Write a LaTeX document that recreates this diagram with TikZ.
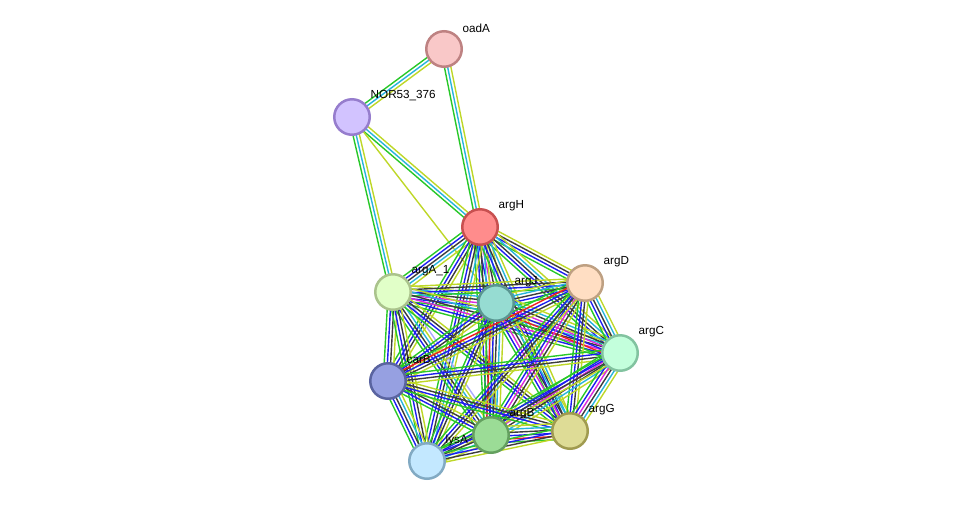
\documentclass[tikz,border=0pt]{standalone}
\usepackage{fontspec}
\setmainfont{Liberation Sans}
\usetikzlibrary{calc}
\pgfdeclarelayer{bg}
\pgfsetlayers{bg,main}
\definecolor{sn}{RGB}{40,200,40}
\definecolor{sf}{RGB}{240,30,30}
\definecolor{sc}{RGB}{30,30,240}
\definecolor{se}{RGB}{220,40,220}
\definecolor{sd}{RGB}{40,180,220}
\definecolor{sx}{RGB}{60,60,60}
\definecolor{st}{RGB}{190,215,40}
\definecolor{sh}{RGB}{170,170,255}
\tikzset{
  prot/.style={circle,minimum size=35.5pt,inner sep=0pt,line width=2.5pt},
  lbl/.style={anchor=west,inner sep=0.5pt,font=\fontsize{11.7}{12}\selectfont},
  chan/.style={line width=1.4pt}
}
\newcommand\stredge[3]{%
  \def\nlines{0}%
  \foreach \cc in {#3}{\pgfmathtruncatemacro\tmpn{\nlines+1}\global\let\nlines\tmpn}%
  \foreach \cc [count=\i] in {#3}{%
    \pgfmathsetmacro\eoff{(\i-(\nlines+1)/2)*3.2}%
    \draw[chan,\cc] ($(#1)!\eoff pt!90:(#2)$) -- ($(#2)!\eoff pt!-90:(#1)$);
  }}
\begin{document}
\begin{tikzpicture}[x=1pt,y=-1pt]
\useasboundingbox (0,0) rectangle (976,507);
% proteins
\node[prot,fill={rgb,255:red,249;green,200;blue,200},draw={rgb,255:red,190;green,130;blue,130}] (oadA) at (444,49) {};
\node[prot,fill={rgb,255:red,210;green,195;blue,255},draw={rgb,255:red,150;green,125;blue,205}] (NOR) at (352,117) {};
\node[prot,fill={rgb,255:red,255;green,140;blue,140},draw={rgb,255:red,200;green,80;blue,80}] (argH) at (480,227) {};
\node[prot,fill={rgb,255:red,225;green,255;blue,200},draw={rgb,255:red,170;green,195;blue,140}] (argA) at (393,292) {};
\node[prot,fill={rgb,255:red,150;green,220;blue,210},draw={rgb,255:red,90;green,150;blue,145}] (argJ) at (496,303) {};
\node[prot,fill={rgb,255:red,255;green,222;blue,195},draw={rgb,255:red,190;green,160;blue,130}] (argD) at (585,283) {};
\node[prot,fill={rgb,255:red,195;green,255;blue,220},draw={rgb,255:red,130;green,195;blue,160}] (argC) at (620,353) {};
\node[prot,fill={rgb,255:red,150;green,160;blue,225},draw={rgb,255:red,90;green,100;blue,160}] (carB) at (388,381) {};
\node[prot,fill={rgb,255:red,155;green,220;blue,150},draw={rgb,255:red,100;green,160;blue,95}] (argB) at (491,435) {};
\node[prot,fill={rgb,255:red,222;green,220;blue,150},draw={rgb,255:red,160;green,155;blue,80}] (argG) at (570,431) {};
\node[prot,fill={rgb,255:red,195;green,232;blue,255},draw={rgb,255:red,130;green,170;blue,195}] (lysA) at (427,461) {};
% labels
\node[lbl] (l1) at (462,28) {oadA};
\node[lbl] (l2) at (370,96) {NOR53\_376};
\node[lbl] (l3) at (498,206) {argH};
\node[lbl] (l4) at (411,271) {argA\_1};
\node[lbl] (l5) at (514,282) {argJ};
\node[lbl] (l6) at (603,262) {argD};
\node[lbl] (l7) at (638,332) {argC};
\node[lbl] (l8) at (406,360) {carB};
\node[lbl] (l9) at (509,414) {argB};
\node[lbl] (l10) at (588,410) {argG};
\node[lbl] (l11) at (445,440) {lysA};
\begin{pgfonlayer}{bg}
\stredge{oadA}{NOR}{sn,sd,st}
\stredge{oadA}{argH}{sn,sd,st}
\stredge{NOR}{argH}{sn,sd,st}
\stredge{NOR}{argA}{sn,sd,st}
\stredge{NOR}{argJ}{st}
\stredge{argH}{argA}{sn,sc,sx,sd,st}
\stredge{argH}{argJ}{sn,sc,se,sx,sd,st}
\stredge{argH}{argD}{sn,sc,sx,st}
\stredge{argH}{argC}{sn,sc,sx,sd,st}
\stredge{argH}{carB}{sn,sc,sx,st}
\stredge{argH}{argB}{sn,sc,sx,sd,st}
\stredge{argH}{argG}{sn,sc,sx,sd,st}
\stredge{argH}{lysA}{sn,sc,sx,sd,st}
\stredge{argA}{argJ}{sn,sc,se,sx,sd,st}
\stredge{argA}{argD}{sn,sc,sx,st}
\stredge{argA}{argC}{sn,sc,se,sx,sd,st}
\stredge{argA}{carB}{sn,sc,sx,st}
\stredge{argA}{argB}{sn,sc,sx,sd,st,sh}
\stredge{argA}{argG}{sn,sc,sx,st}
\stredge{argA}{lysA}{sn,sc,sx,st}
\stredge{argJ}{argD}{sn,sc,sx,sd,st}
\stredge{argJ}{argC}{sn,sf,sc,se,sx,sd,st}
\stredge{argJ}{carB}{sn,sc,sx,st}
\stredge{argJ}{argB}{sn,sf,sc,sx,sd,st}
\stredge{argJ}{argG}{sn,sc,se,sx,sd,st}
\stredge{argJ}{lysA}{sn,sc,sx,st}
\stredge{argD}{argC}{sn,sc,sx,sd,st}
\stredge{argD}{carB}{sn,sf,sc,sx,st}
\stredge{argD}{argB}{sn,sc,se,sx,st}
\stredge{argD}{argG}{sn,sc,sx,st}
\stredge{argD}{lysA}{sn,sc,sx,st}
\stredge{argC}{carB}{sn,sc,sx,st}
\stredge{argC}{argB}{sn,sc,se,sx,sd,st}
\stredge{argC}{argG}{sn,sc,se,sx,sd,st}
\stredge{argC}{lysA}{sn,sc,sx,st}
\stredge{carB}{argB}{sn,sc,sx,st}
\stredge{carB}{argG}{sn,sc,sx,st}
\stredge{carB}{lysA}{sn,sc,sx,sd,st}
\stredge{argB}{argG}{sn,sf,sc,sx,sd,st}
\stredge{argB}{lysA}{sn,sc,sx,sd,st}
\stredge{argG}{lysA}{sn,sc,sx,st}
\end{pgfonlayer}
\end{tikzpicture}
\end{document}
